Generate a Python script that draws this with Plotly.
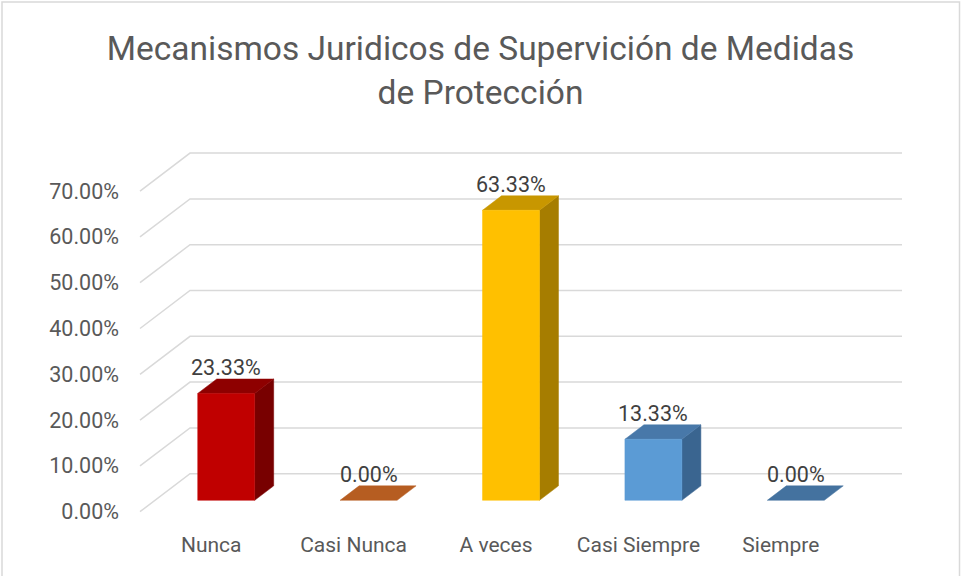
import plotly.graph_objects as go

# datos del grafico
categorias = ["Nunca", "Casi Nunca", "A veces", "Casi Siempre", "Siempre"]
porcentajes = [0.2333, 0.0, 0.6333, 0.1333, 0.0]
ticks_y = [0.0, 0.1, 0.2, 0.3, 0.4, 0.5, 0.6, 0.7]

# colores de cada cara (frente, tapa, lado)
color_frente = ["#C00000", "#ED7D31", "#FFC000", "#5B9BD5", "#4472C4"]
color_tapa = ["#8E0000", "#B65D21", "#C89700", "#4878A9", "#44729F"]
color_lado = ["#780000", "#9A4E1C", "#A67D00", "#3A6590", "#365F91"]

titulo = "Mecanismos Juridicos de Supervición de Medidas<br>de Protección"

# perspectiva oblicua (profundidad en unidades de datos)
DX = 50 / 142.4
DY = 38 / 458
D_FRENTE, D_FONDO = 0.30, 0.68
ANCHO = 0.4
FUENTE = "Roboto"


def proyectar(x, y, d):
    return x + d * DX, y + d * DY


def poligono(puntos, color):
    xs, ys = zip(*[proyectar(*p) for p in puntos])
    return go.Scatter(
        x=list(xs) + [xs[0]], y=list(ys) + [ys[0]],
        mode="lines", fill="toself", fillcolor=color,
        line=dict(color=color, width=0.5),
        hoverinfo="skip", showlegend=False,
    )


fig = go.Figure()

# lineas de division: pared del fondo y diagonal al frente
gx, gy = [], []
for v in ticks_y:
    for p in [(0, v, 0), (0, v, 1), (len(categorias), v, 1)]:
        x, y = proyectar(*p)
        gx.append(x)
        gy.append(y)
    gx.append(None)
    gy.append(None)
fig.add_trace(go.Scatter(x=gx, y=gy, mode="lines",
                         line=dict(color="#D9D9D9", width=1.5),
                         hoverinfo="skip", showlegend=False))

# barras 3D
for i, v in enumerate(porcentajes):
    x0 = i + 0.5 - ANCHO / 2
    x1 = i + 0.5 + ANCHO / 2
    if v > 0:
        fig.add_trace(poligono([(x1, 0, D_FRENTE), (x1, 0, D_FONDO),
                                (x1, v, D_FONDO), (x1, v, D_FRENTE)], color_lado[i]))
    fig.add_trace(poligono([(x0, v, D_FRENTE), (x1, v, D_FRENTE),
                            (x1, v, D_FONDO), (x0, v, D_FONDO)], color_tapa[i]))
    if v > 0:
        fig.add_trace(poligono([(x0, 0, D_FRENTE), (x1, 0, D_FRENTE),
                                (x1, v, D_FRENTE), (x0, v, D_FRENTE)], color_frente[i]))
    lx, _ = proyectar(i + 0.5, v, D_FRENTE)
    _, ly = proyectar(i + 0.5, v, D_FONDO)
    fig.add_annotation(x=lx, y=ly, text=f"{v:.2%}", showarrow=False,
                       xanchor="center", yanchor="bottom", yshift=-3,
                       font=dict(family=FUENTE, size=21.5, color="#404040"))

L, R, T, B = 120, 41, 130, 46
W, H = 961, 576
pw, ph = W - L - R, H - T - B

fig.update_layout(
    width=W, height=H,
    margin=dict(l=L, r=R, t=T, b=B),
    paper_bgcolor="white", plot_bgcolor="white",
    title=dict(text=titulo, x=0.5, xref="container", xanchor="center",
               y=1 - 60 / H, yref="container", yanchor="top",
               font=dict(family=FUENTE, size=33.5, color="#595959")),
    xaxis=dict(range=[(L - 140) / 142.4, (W - R - 140) / 142.4],
               tickvals=[i + 0.5 for i in range(len(categorias))],
               ticktext=categorias, showgrid=False, zeroline=False,
               showline=False, ticks="",
               tickfont=dict(family=FUENTE, size=21, color="#595959")),
    yaxis=dict(range=[(511.7 - (H - B)) / 458, (511.7 - T) / 458],
               tickvals=ticks_y, tickformat=".2%", showgrid=False,
               zeroline=False, showline=False, ticks="",
               tickfont=dict(family=FUENTE, size=21.5, color="#595959")),
    shapes=[dict(type="rect", xref="paper", yref="paper",
                 x0=(2 - L) / pw, x1=(W - 1.5 - L) / pw,
                 y0=(H - B - H - 5) / ph, y1=(H - B - 2) / ph,
                 line=dict(color="#D9D9D9", width=1.5))],
)

fig.write_html("out.html", config={"displayModeBar": False},
               post_script="document.body.style.margin='0';")
